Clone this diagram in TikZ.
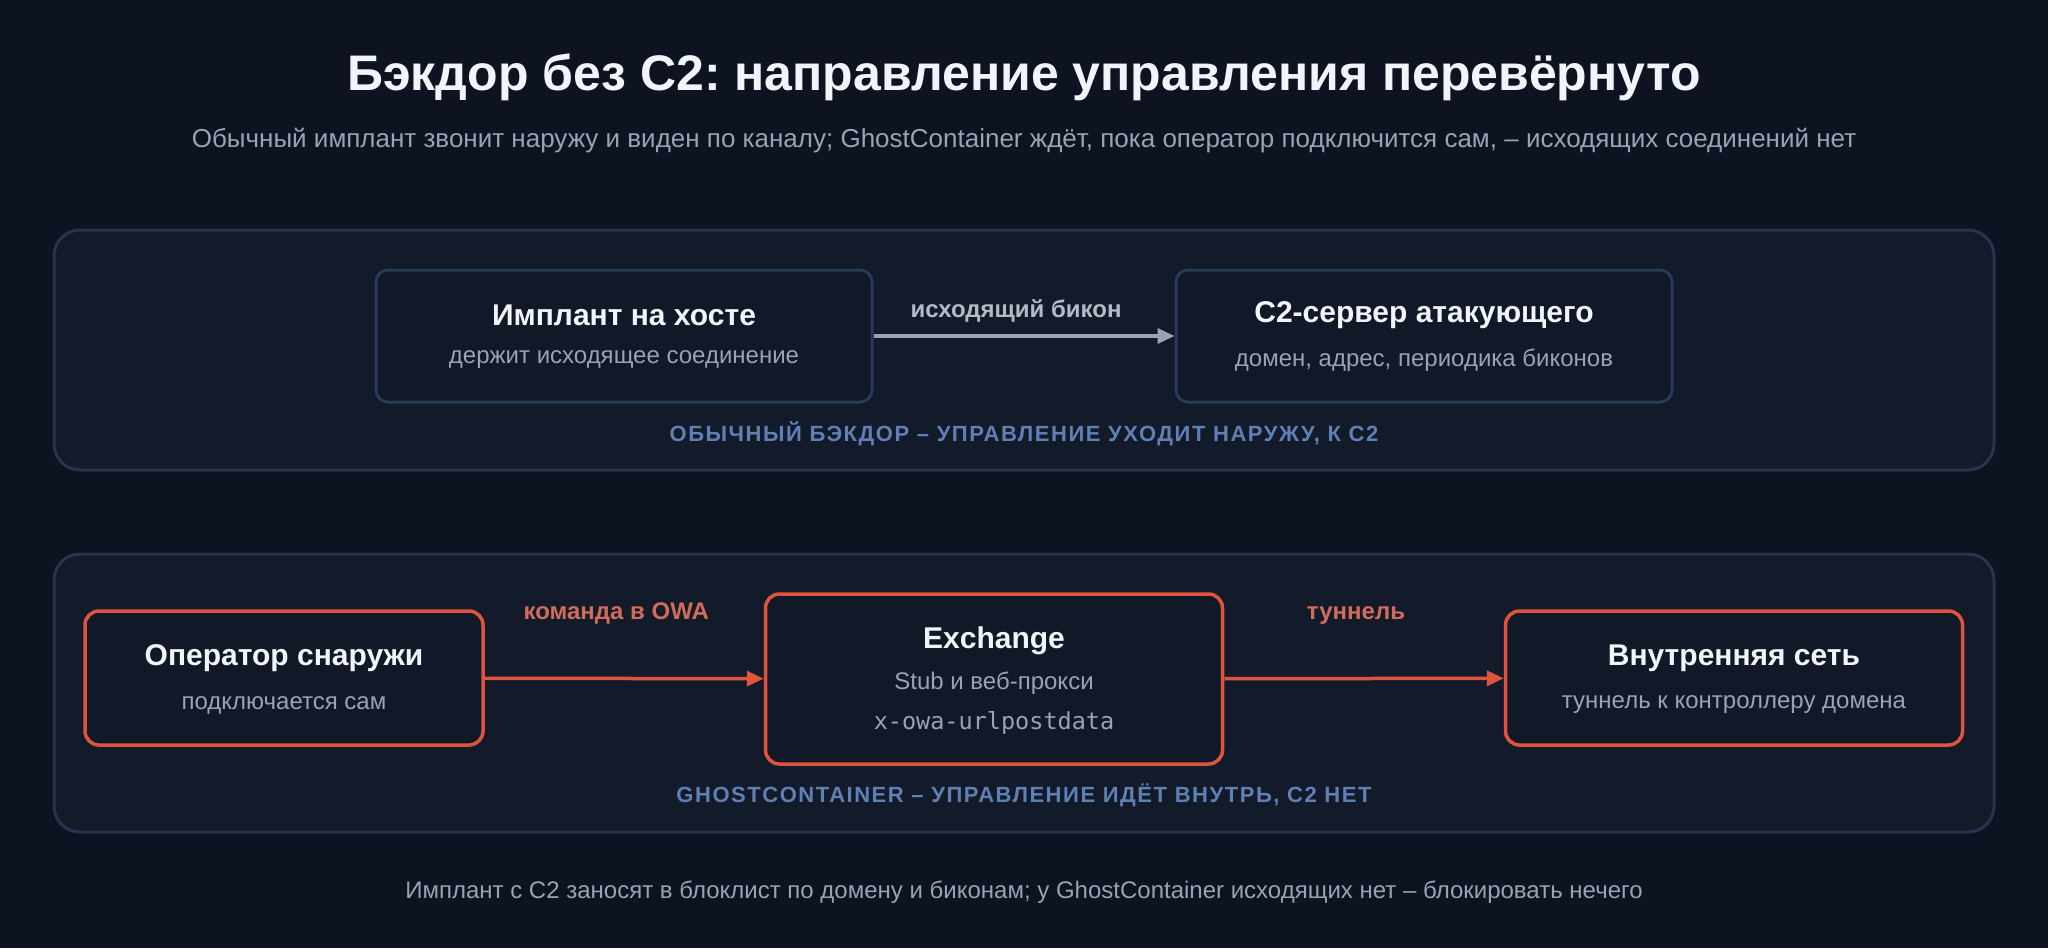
\documentclass[tikz,border=0pt]{standalone}
\usepackage{fontspec}
\setmainfont{Liberation Sans}
\newfontfamily\monofont{DejaVu Sans Mono}
\newfontfamily\capsfont{Liberation Sans}[LetterSpace=7]
\usetikzlibrary{arrows.meta,calc,positioning}
\frenchspacing
\definecolor{bgcol}{HTML}{0D1320}
\definecolor{panelfill}{HTML}{131A2A}
\definecolor{paneledge}{HTML}{263450}
\definecolor{boxfill}{HTML}{111827}
\definecolor{boxedge}{HTML}{2B3A58}
\definecolor{hot}{HTML}{E0533D}
\definecolor{wire}{HTML}{9AA3B5}
\definecolor{tagblue}{HTML}{5E80B5}
\definecolor{titlecol}{HTML}{F1F4FA}
\definecolor{subcol}{HTML}{9AA3B2}
\definecolor{hotlbl}{HTML}{CF6D5A}
\definecolor{wirelbl}{HTML}{B4BBC7}
\tikzset{
	panel/.style={draw=paneledge,line width=3pt,fill=panelfill,rounded corners=26pt,minimum width=1940pt},
	plainbox/.style={draw=boxedge,line width=3pt,fill=boxfill,rounded corners=12pt,minimum width=496pt,minimum height=132pt},
	hotbox/.style={draw=hot,line width=3.5pt,fill=boxfill,rounded corners=14pt,minimum width=457pt,minimum height=134pt},
	boxhead/.style={text=titlecol,font=\fontsize{30}{36}\selectfont\bfseries},
	boxsub/.style={text=subcol,font=\fontsize{24}{28}\selectfont},
	paneltag/.style={text=tagblue,font=\fontsize{22}{26}\capsfont\bfseries},
	edgetag/.style={font=\fontsize{24}{28}\selectfont\bfseries,xshift=-8pt},
}
\begin{document}
\begin{tikzpicture}[x=1pt,y=-1pt]
	\useasboundingbox (0,0) rectangle (2048,948);
	\fill[bgcol] (0,0) rectangle (2048,948);

	\node (heading) at (1024,77) [text=titlecol,font=\fontsize{50}{58}\selectfont\bfseries] {Бэкдор без C2: направление управления перевёрнуто};
	\node (lead) at (1024,141) [text=subcol,font=\fontsize{26}{30}\selectfont] {Обычный имплант звонит наружу и виден по каналу; GhostContainer ждёт, пока оператор подключится сам, – исходящих соединений нет};

	% classic backdoor
	\node (topPanel) at (1024,350) [panel,minimum height=240pt] {};
	\node (imp) at (624,336) [plainbox] {};
	\node (impHead) at ($(imp.center)+(0,-21)$) [boxhead] {Имплант на хосте};
	\node (impSub) at ($(imp.center)+(0,24)$) [boxsub] {держит исходящее соединение};
	\node (c2) at (1424,336) [plainbox] {};
	\node (c2Head) at ($(c2.center)+(0,-21)$) [boxhead] {C2-сервер атакующего};
	\node (c2Sub) at ($(c2.center)+(0,24)$) [boxsub] {домен, адрес, периодика биконов};
	\draw[draw=wire,line width=3.5pt,-{Triangle[length=17pt,width=15pt]}] (imp) -- (c2) node[midway,above=9pt,edgetag,text=wirelbl] (beacon) {исходящий бикон};
	\node (topTag) at (1024,434) [paneltag] {ОБЫЧНЫЙ БЭКДОР – УПРАВЛЕНИЕ УХОДИТ НАРУЖУ, К C2};

	% ghostcontainer
	\node (botPanel) at (1024,693) [panel,minimum height=278pt] {};
	\node (op) at (284,678) [hotbox,minimum width=398pt] {};
	\node (opHead) at ($(op.center)+(0,-20)$) [boxhead] {Оператор снаружи};
	\node (opSub) at ($(op.center)+(0,27)$) [boxsub] {подключается сам};
	\node (exch) at (994,679) [hotbox,minimum height=170pt] {};
	\node (exchHead) at ($(exch.center)+(0,-38)$) [boxhead] {Exchange};
	\node (exchSub) at ($(exch.center)+(0,4)$) [boxsub] {Stub и веб-прокси};
	\node (exchCode) at ($(exch.center)+(0,44)$) [boxsub,font=\fontsize{23.5}{28}\monofont] {x-owa-urlpostdata};
	\node (net) at (1734,678) [hotbox] {};
	\node (netHead) at ($(net.center)+(0,-20)$) [boxhead] {Внутренняя сеть};
	\node (netSub) at ($(net.center)+(0,27)$) [boxsub] {туннель к контроллеру домена};
	\draw[draw=hot,line width=3.5pt,-{Triangle[length=17pt,width=15pt]}] (op) -- (exch) node[midway,above=49pt,edgetag,text=hotlbl] (cmd) {команда в OWA};
	\draw[draw=hot,line width=3.5pt,-{Triangle[length=17pt,width=15pt]}] (exch) -- (net) node[midway,above=49pt,edgetag,text=hotlbl] (tun) {туннель};
	\node (botTag) at (1024,795) [paneltag] {GHOSTCONTAINER – УПРАВЛЕНИЕ ИДЁТ ВНУТРЬ, C2 НЕТ};

	\node (foot) at (1024,892) [text=subcol,font=\fontsize{24}{28}\selectfont] {Имплант с C2 заносят в блоклист по домену и биконам; у GhostContainer исходящих нет – блокировать нечего};
\end{tikzpicture}
\end{document}
